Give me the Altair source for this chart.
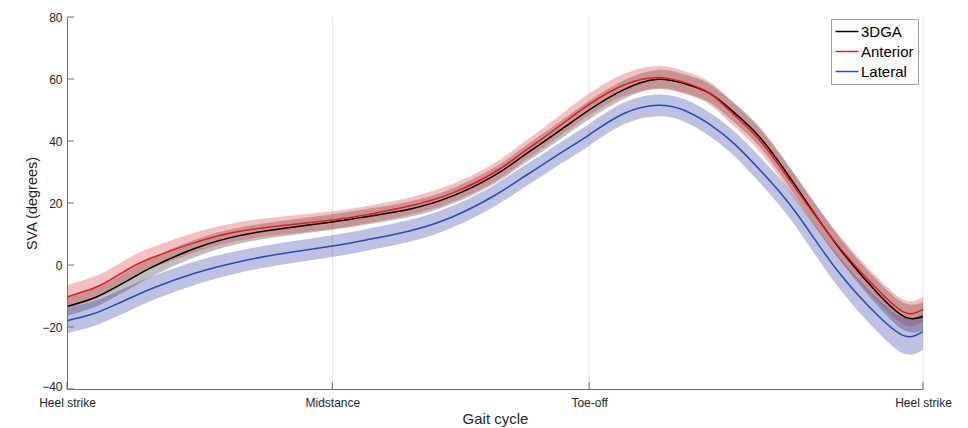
import altair as alt
import pandas as pd

# ---------------- data ----------------
x_pts = [0, 3, 5, 7.5, 10, 15, 20, 25, 31, 35, 40, 45, 50, 53, 55, 58, 61, 65, 69, 72, 75, 78, 81, 85, 90,
         95, 98, 100]

dga_mean = [-13.4, -10.8, -8.2, -4.4, -0.6, 5.4, 9.4, 11.7, 13.9, 15.6, 18.0, 22.2, 29.0, 34.6, 38.4, 44.2,
            50.0, 56.5, 59.9, 58.6, 55.5, 49.0, 41.0, 26.0, 6.2, -10.0, -16.9, -16.6]
dga_sd = [3, 3, 3, 3, 3, 2.8, 2.6, 2.5, 2.5, 2.5, 2.5, 2.5, 2.6, 2.7, 2.8, 2.9, 3, 3, 3, 3, 3, 3.1, 3.2,
          3.4, 3.6, 4, 4.4, 4.5]

ant_mean = [-10.3, -7.6, -4.9, -0.8, 2.4, 7.3, 10.8, 12.7, 14.5, 16.2, 19.0, 23.2, 30.0, 35.8, 39.7, 45.8,
            51.8, 58.0, 60.5, 59.0, 55.5, 48.3, 40.0, 25.2, 6.5, -8.8, -15.5, -14.3]
ant_sd = [3.8, 3.7, 3.6, 3.5, 3.4, 3.2, 3, 2.9, 2.8, 2.8, 2.8, 2.9, 3, 3.1, 3.2, 3.4, 3.5, 3.6, 3.7, 3.7,
          3.7, 3.7, 3.7, 3.8, 3.8, 3.9, 4, 4]

lat_mean = [-18.0, -15.8, -13.6, -10.5, -7.5, -2.6, 1.0, 3.6, 6.1, 8.1, 11.0, 15.5, 22.5, 27.8, 31.3, 36.7,
            42.0, 48.8, 51.5, 50.0, 45.5, 39.0, 30.5, 17.5, -1.8, -17.0, -23.0, -21.5]
lat_sd = [4, 4, 4, 4, 3.9, 3.8, 3.6, 3.5, 3.5, 3.5, 3.5, 3.5, 3.5, 3.5, 3.5, 3.5, 3.5, 3.5, 3.5, 3.6, 3.8,
          4.0, 4.2, 4.6, 5, 5.4, 5.8, 5.8]

series_names = ["3DGA", "Anterior", "Lateral"]
line_colors = ["#000000", "#e8191c", "#1f4fb4"]
band_colors = ["#2a2a2a", "#dd2d2d", "#2832a0"]

x_tick_vals = [0, 31, 61, 100]
x_tick_text = ["Heel strike", "Midstance", "Toe-off", "Heel strike"]
y_tick_vals = [-40, -20, 0, 20, 40, 60, 80]
grid_vals = [31, 61, 100]

# ---------------- build tables ----------------
rows = []
for name, m, s in zip(series_names, [dga_mean, ant_mean, lat_mean], [dga_sd, ant_sd, lat_sd]):
    for xv, mv, sv in zip(x_pts, m, s):
        rows.append({"x": xv, "series": name, "mean": mv, "lo": mv - sv, "hi": mv + sv})
df = pd.DataFrame(rows)

W, H = 856, 372
FONT = "Liberation Sans"
AX = "#262626"
AXLINE = "#6e6e6e"
xs = alt.Scale(domain=[0, 100], nice=False, zero=False)
ys = alt.Scale(domain=[-40, 80], nice=False, zero=False)

label_expr = " : ".join(
    f"datum.value == {v} ? '{t}'" for v, t in zip(x_tick_vals, x_tick_text)
) + " : ''"

x_axis = alt.Axis(values=x_tick_vals, labelExpr=label_expr, title="Gait cycle", grid=False, ticks=False,
                  tickSize=0, domainColor=AXLINE, labelFontSize=12, labelFont=FONT, labelColor=AX,
                  labelPadding=8, labelFlush=False, labelOverlap=False, titleFont=FONT, titleFontSize=15,
                  titleColor=AX, titleFontWeight="normal", titlePadding=3, zindex=1)
y_axis = alt.Axis(values=y_tick_vals, title="SVA (degrees)", grid=False, ticks=False, tickSize=0,
                  domainColor=AXLINE, labelFontSize=12, labelFont=FONT, labelColor=AX, labelPadding=5,
                  labelOffset={"condition": {"test": f"datum.value == {min(y_tick_vals)}", "value": -3},
                               "value": 0},
                  titleFont=FONT, titleFontSize=14.5, titleColor=AX, titleFontWeight="normal",
                  titlePadding=2, zindex=1)

X = lambda f: alt.X(f, scale=xs, axis=x_axis)
Y = lambda f: alt.Y(f, scale=ys, axis=y_axis)

grid = alt.Chart(pd.DataFrame({"g": grid_vals})).mark_rule(color="#e2e2e2", strokeWidth=1).encode(
    x=X("g:Q"), y=alt.value(0), y2=alt.value(H))

bands = []
for name, c in zip(series_names, band_colors):
    bands.append(
        alt.Chart(df).transform_filter(alt.datum.series == name)
        .mark_area(interpolate="natural", color=c, opacity=0.3)
        .encode(x=X("x:Q"), y=Y("lo:Q"), y2="hi:Q")
    )

lines = alt.Chart(df).mark_line(interpolate="natural", strokeWidth=1.5).encode(
    x=X("x:Q"),
    y=Y("mean:Q"),
    color=alt.Color("series:N", scale=alt.Scale(domain=series_names, range=line_colors),
                    legend=alt.Legend(title=None, orient="none", legendX=764, legendY=2, direction="vertical",
                                      symbolType="M-1.53,0L1.53,0", symbolSize=225, symbolStrokeWidth=1.5,
                                      symbolOffset=3.5, labelFontSize=15, labelFont=FONT,
                                      labelColor="#000000", strokeColor="#a0a0a0", fillColor="#ffffff",
                                      padding=4, rowPadding=3, labelOffset=5.5)),
)

yticks = alt.Chart(pd.DataFrame({"v": y_tick_vals})).mark_rule(color=AXLINE).encode(
    y=Y("v:Q"), x=alt.value(0), x2=alt.value(7))
xticks = alt.Chart(pd.DataFrame({"v": x_tick_vals})).mark_rule(color=AXLINE).encode(
    x=X("v:Q"), y=alt.value(H), y2=alt.value(H - 7))

chart = alt.layer(grid, *bands, lines, yticks, xticks).properties(
    width=W, height=H,
    padding={"left": 59, "top": 9, "right": 37, "bottom": 39},
    autosize=alt.AutoSizeParams(type="none"),
).configure_view(stroke=None)

chart.save("out.html", embed_options={"renderer": "svg", "actions": False})
